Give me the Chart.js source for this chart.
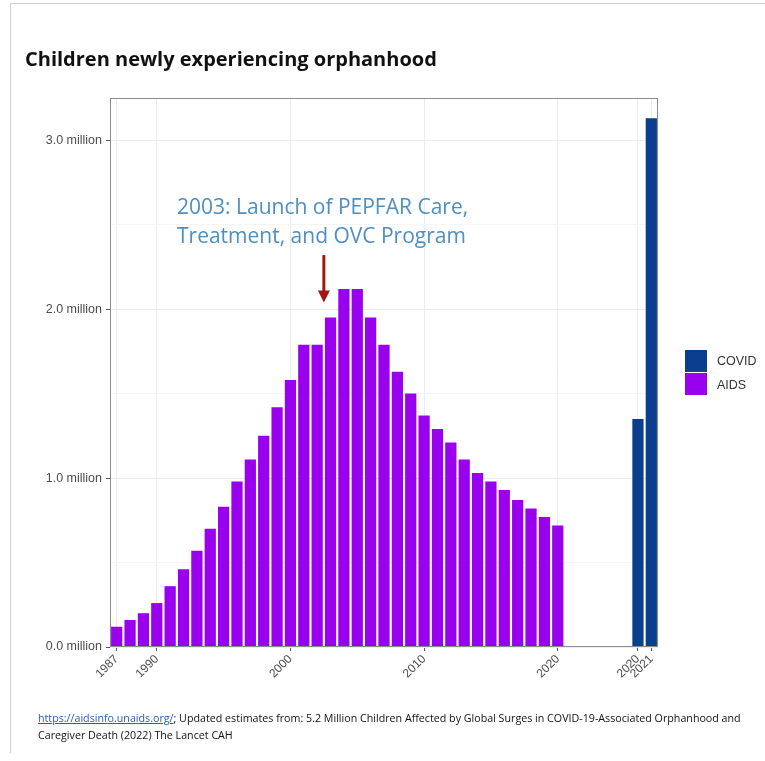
<!DOCTYPE html>
<html>
<head>
<meta charset="utf-8">
<script src="https://cdn.jsdelivr.net/npm/chart.js@4.4.1/dist/chart.umd.min.js"></script>
<style>
  body { margin: 0; background: #fff; }
  #wrap { position: relative; width: 765px; height: 761px; overflow: hidden; }
  #frame { position: absolute; left: 10px; top: 3px; width: 760px; height: 749px;
           border-left: 1px solid #cfcfcf; border-top: 1px solid #cfcfcf; }
  #chart { position: absolute; left: 0; top: 0; }
  #title { position: absolute; left: 25px; top: 45px; font: bold 20px "Open Sans", sans-serif; color: #111; }
  #note { position: absolute; left: 177px; top: 192px; font: 21px "Open Sans", sans-serif;
          color: #4e8fc2; line-height: 29px; }
  .key { position: absolute; left: 685px; width: 22px; height: 22px; }
  .keytxt { position: absolute; left: 717px; font: 12.5px "Liberation Sans", Arial, sans-serif; color: #333; }
  #foot { position: absolute; left: 38px; top: 710px; width: 727px; font: 10.7px "Open Sans", sans-serif;
          color: #111; line-height: 17px; white-space: nowrap; }
  #foot a { color: #2a5db0; }
</style>
</head>
<body>
<div id="wrap">
  <div id="frame"></div>
  <canvas id="chart" width="765" height="761"></canvas>
  <div id="title">Children newly experiencing orphanhood</div>
  <div id="note">2003: Launch of PEPFAR Care,<br>Treatment, and OVC Program</div>
  <div class="key" style="top:350px;background:#0a3f8f"></div>
  <div class="key" style="top:373px;background:#9900ee"></div>
  <div class="keytxt" style="top:354px">COVID</div>
  <div class="keytxt" style="top:378px">AIDS</div>
  <div id="foot"><a href="#">https://aidsinfo.unaids.org/</a>; Updated estimates from: 5.2 Million Children Affected by Global Surges in COVID-19-Associated Orphanhood and<br>Caregiver Death (2022) The Lancet CAH</div>
</div>
<script>
// x slots: AIDS years 1987-2020, five empty slots, then COVID 2020 and 2021
const aidsYears = [];
for (let y = 1987; y <= 2020; y++) aidsYears.push(String(y));
const gapSlots = ['', '', '', '', ''];
const covidYears = ['2020', '2021'];
const labels = aidsYears.concat(gapSlots, covidYears);

// millions of children
const aidsValues = [0.12, 0.16, 0.20, 0.26, 0.36, 0.46, 0.57, 0.70, 0.83, 0.98,
                    1.11, 1.25, 1.42, 1.58, 1.79, 1.79, 1.95, 2.12, 2.12, 1.95,
                    1.79, 1.63, 1.50, 1.37, 1.29, 1.21, 1.11, 1.03, 0.98, 0.93,
                    0.87, 0.82, 0.77, 0.72];
const covidValues = [1.35, 3.13];

const shownTicks = [0, 3, 13, 23, 33, 39, 40];
const yTicks = [0, 1, 2, 3];

const aidsData = aidsValues.concat(gapSlots.map(() => null), covidYears.map(() => null));
const covidData = aidsYears.map(() => null).concat(gapSlots.map(() => null), covidValues);

const panel = {
  id: 'panel',
  afterDatasetsDraw(chart) {
    const ctx = chart.ctx, a = chart.chartArea;
    const x = chart.scales.x, y = chart.scales.y;
    ctx.save();
    ctx.strokeStyle = '#8c8c8c';
    ctx.lineWidth = 1;
    ctx.strokeRect(a.left + 0.5, a.top + 0.5, a.right - a.left - 1, a.bottom - a.top - 1);
    // arrow between 2002 and 2003
    const ax = (x.getPixelForValue(15) + x.getPixelForValue(16)) / 2;
    const y0 = y.getPixelForValue(2.32), y1 = y.getPixelForValue(2.04);
    ctx.strokeStyle = '#a51515';
    ctx.fillStyle = '#a51515';
    ctx.lineWidth = 3;
    ctx.beginPath();
    ctx.moveTo(ax, y0);
    ctx.lineTo(ax, y1 - 10);
    ctx.stroke();
    ctx.beginPath();
    ctx.moveTo(ax - 6, y1 - 12);
    ctx.lineTo(ax + 6, y1 - 12);
    ctx.lineTo(ax, y1);
    ctx.closePath();
    ctx.fill();
    ctx.restore();
  }
};

new Chart(document.getElementById('chart'), {
  type: 'bar',
  data: {
    labels: labels,
    datasets: [
      { label: 'AIDS', data: aidsData, backgroundColor: '#9900ee' },
      { label: 'COVID', data: covidData, backgroundColor: '#0a3f8f' }
    ]
  },
  options: {
    responsive: false,
    animation: false,
    barPercentage: 0.84,
    categoryPercentage: 1.0,
    layout: { padding: { left: 0, top: 98, right: 107, bottom: 54 } },
    plugins: { legend: { display: false }, tooltip: { enabled: false } },
    scales: {
      x: {
        stacked: true,
        border: { display: false },
        grid: { color: '#ececec', tickColor: '#555', tickLength: 4, offset: false },
        ticks: {
          autoSkip: false,
          minRotation: 45,
          maxRotation: 45,
          padding: 1,
          color: '#4d4d4d',
          font: { family: 'Liberation Sans', size: 12 },
          callback: function (v, i) { return shownTicks.includes(i) ? labels[i] : null; }
        },
        afterFit: function (s) { s.height = 60; }
      },
      y: {
        stacked: true,
        min: 0,
        max: 3.25,
        border: { display: false },
        grid: {
          color: c => yTicks.includes(c.tick.value) ? '#ececec' : '#f5f5f5',
          tickColor: c => yTicks.includes(c.tick.value) ? '#555' : 'rgba(0,0,0,0)',
          tickLength: 4
        },
        ticks: {
          stepSize: 0.5,
          padding: 4,
          color: '#4d4d4d',
          font: { family: 'Liberation Sans', size: 12.5 },
          callback: function (v) {
            if (v > 3.1) return null;
            return yTicks.includes(v) ? v.toFixed(1) + ' million' : '';
          }
        },
        afterFit: function (s) { s.width = 110; }
      }
    }
  },
  plugins: [panel]
});
</script>
</body>
</html>
